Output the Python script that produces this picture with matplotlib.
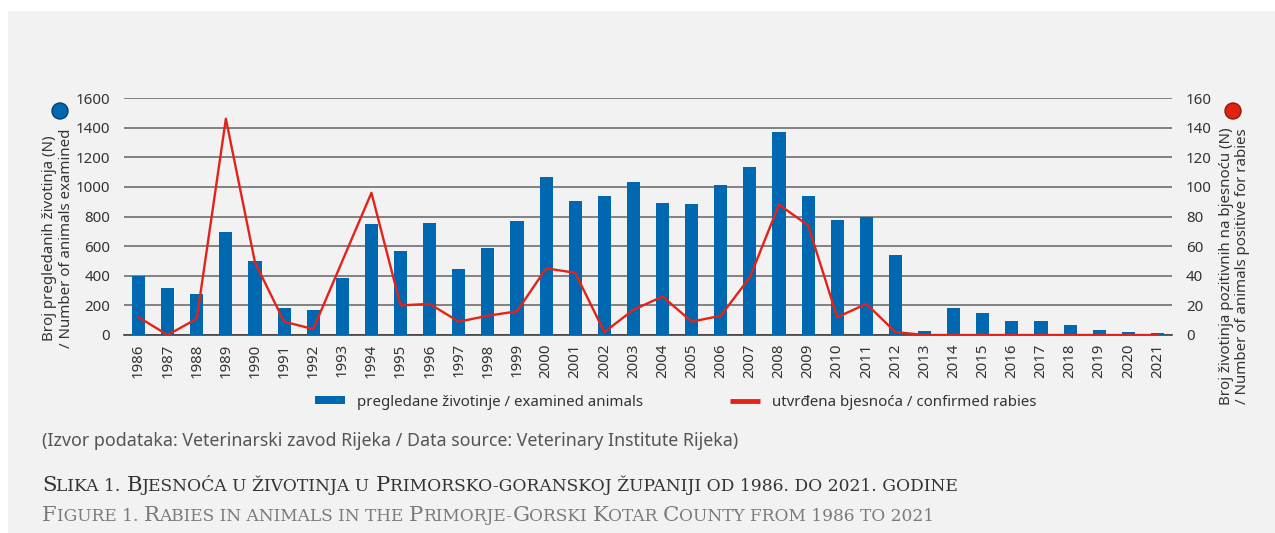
import numpy as np
import matplotlib
matplotlib.use("Agg")
import matplotlib.pyplot as plt
from matplotlib.patches import Rectangle, Circle, Patch
from matplotlib.lines import Line2D

plt.rcParams["font.family"] = ["Noto Sans", "DejaVu Sans"]

years = list(range(1986, 2022))
examined = [400, 319, 278, 696, 500, 184, 171, 386, 750, 568,
            757, 447, 588, 770, 1067, 905, 939, 1033, 892, 885,
            1013, 1134, 1370, 939, 777, 800, 541, 29, 184, 150,
            97, 97, 70, 36, 22, 16]
rabies = [12, 0, 11, 146, 49, 9, 4, 50, 96, 20,
          21, 9, 13, 16, 45, 42, 2, 17, 26, 9,
          13, 39, 88, 74, 12, 21, 2, 0, 0, 0,
          0, 0, 0, 0, 0, 0]

left_ticks = [0, 200, 400, 600, 800, 1000, 1200, 1400, 1600]
right_ticks = [0, 20, 40, 60, 80, 100, 120, 140, 160]

blue = "#0068b0"
red = "#e2231a"
txt = "#333333"

W, H = 1275, 533
fig = plt.figure(figsize=(W / 100, H / 100), dpi=100, facecolor="white")

# grey panel
fig.patches.append(Rectangle((8 / W, 0), 1 - 8 / W, 1 - 11 / H,
                             transform=fig.transFigure, facecolor="#f2f2f2",
                             edgecolor="none", zorder=-10))

ax = fig.add_axes([124 / W, 1 - 335 / H, (1172 - 124) / W, (335 - 98) / H])
ax.set_facecolor("none")
x = np.arange(len(years))
ax.bar(x, examined, width=0.45, color=blue, zorder=3)
ax.set_xlim(-0.5, len(years) - 0.5)
ax.set_ylim(0, 1600)
ax.set_yticks(left_ticks)
ax.set_xticks(x)
ax.set_xticklabels([str(y) for y in years], rotation=90, fontsize=10.8, color=txt)
ax.tick_params(axis="both", length=0, pad=6, labelsize=10.8, labelcolor=txt)
ax.tick_params(axis="y", pad=10)
ax.grid(axis="y", color="#6e6e6e", linewidth=1.2, zorder=0)
for s in ["top", "left", "right"]:
    ax.spines[s].set_visible(False)
ax.spines["bottom"].set_color("#404040")
ax.spines["bottom"].set_linewidth(1.2)

ax2 = ax.twinx()
ax2.plot(x, rabies, color=red, linewidth=1.7, zorder=4)
ax2.set_ylim(0, 160)
ax2.set_yticks(right_ticks)
ax2.tick_params(axis="y", length=0, pad=10, labelsize=10.8, labelcolor=txt)
for s in ["top", "left", "right", "bottom"]:
    ax2.spines[s].set_visible(False)

# axis titles
fig.text(50 / W, 1 - 238 / H, "Broj pregledanih životinja (N)", rotation=90,
         ha="center", va="center", fontsize=10.8, color=txt)
fig.text(66 / W, 1 - 238 / H, "/ Number of animals examined", rotation=90,
         ha="center", va="center", fontsize=10.8, color=txt)
fig.text(1227 / W, 1 - 266 / H, "Broj životinja pozitivnih na bjesnoću (N)", rotation=90,
         ha="center", va="center", fontsize=10.8, color=txt)
fig.text(1243 / W, 1 - 266 / H, "/ Number of animals positive for rabies", rotation=90,
         ha="center", va="center", fontsize=10.8, color=txt)

# marker circles
fig.patches.append(Circle((60, H - 111), 8, transform=None, facecolor=blue,
                          edgecolor="#0a3d6e", linewidth=1))
fig.patches.append(Circle((1233, H - 111), 8, transform=None, facecolor="#e0230f",
                          edgecolor="#8c1a10", linewidth=1))

# legend
handles = [Patch(facecolor=blue, edgecolor="none"),
           Line2D([], [], color=red, linewidth=3.5, solid_capstyle="butt")]
fig.legend(handles, ["pregledane životinje / examined animals",
                     "utvrđena bjesnoća / confirmed rabies"],
           loc="center", bbox_to_anchor=(676 / W, 1 - 402 / H), ncol=2,
           frameon=False, fontsize=10.8, handlelength=2.0, handleheight=0.5,
           columnspacing=5.8, handletextpad=0.8, labelcolor=txt)

fig.text(42 / W, 1 - 441 / H,
         "(Izvor podataka: Veterinarski zavod Rijeka / Data source: Veterinary Institute Rijeka)",
         ha="left", va="center", fontsize=12.8, color="#555555")

renderer = fig.canvas.get_renderer()
serif = ["DejaVu Serif"]


def text_width(s, size):
    t = fig.text(0, 0, s, fontsize=size, family=serif)
    w = t.get_window_extent(renderer).width
    t.remove()
    return w


def runs_of(s, big, small):
    runs = []
    for ch in s:
        size = big if ch.isupper() else small
        if runs and runs[-1][1] == size:
            runs[-1][0] += ch.upper()
        else:
            runs.append([ch.upper(), size])
    return runs


def small_caps(xpix, ypix, s, big, small, color, target):
    # fake small caps: runs of big / small capitals, scaled to the target width
    base = text_width("HH", big)
    natural = sum(text_width("H" + r + "H", sz) - text_width("HH", sz) for r, sz in runs_of(s, big, small))
    k = target / natural
    big, small = big * k, small * k
    cx = xpix
    for r, sz in runs_of(s, big, small):
        adv = text_width("H" + r + "H", sz) - text_width("HH", sz)
        if r.strip():
            fig.text(cx, ypix, r, fontsize=sz, family=serif, color=color,
                     ha="left", va="baseline", transform=None)
        cx += adv


small_caps(42, H - 491, "Slika 1. Bjesnoća u životinja u Primorsko-goranskoj županiji od 1986. do 2021. godine",
           13.2, 10.6, "#333333", 916)
small_caps(42, H - 521, "Figure 1. Rabies in animals in the Primorje-Gorski Kotar County from 1986 to 2021",
           13.2, 10.6, "#7a7a7a", 898)

fig.savefig("out.png", dpi=100, facecolor=fig.get_facecolor())
